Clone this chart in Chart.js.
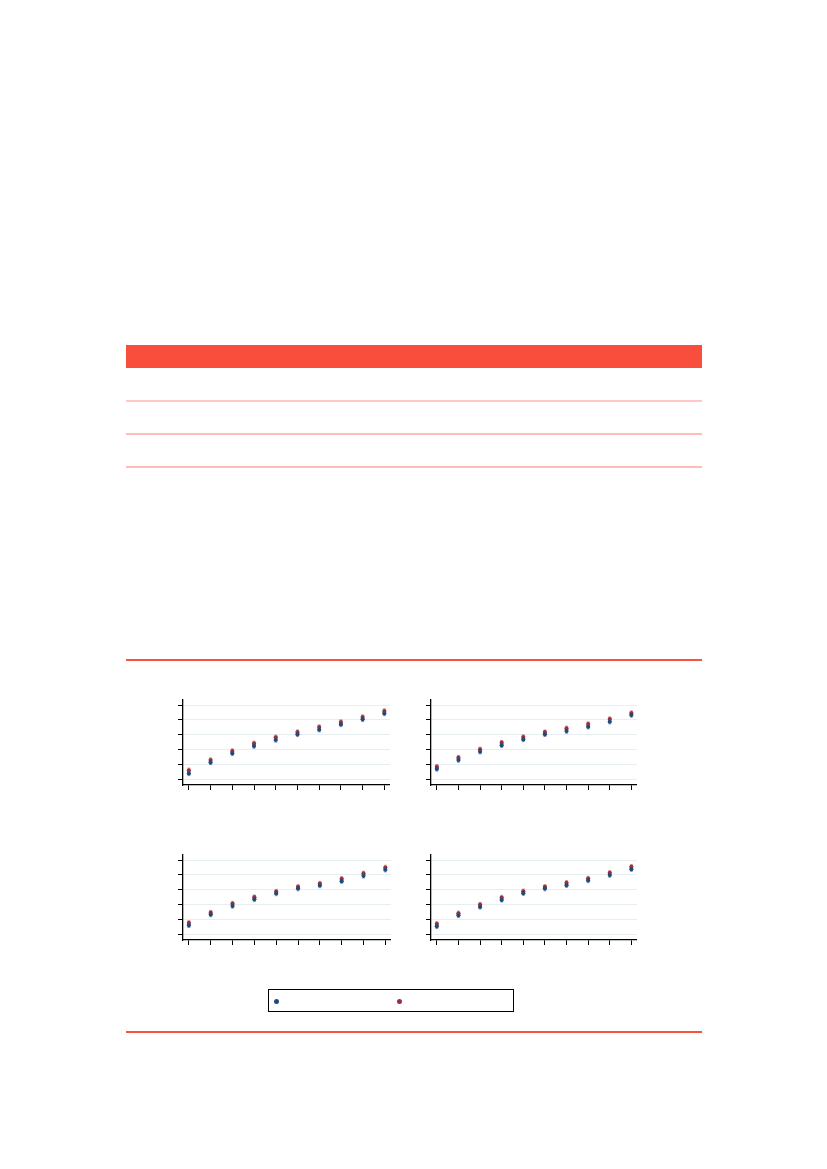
<!DOCTYPE html>
<html>
<head>
<meta charset="utf-8">
<script src="https://cdn.jsdelivr.net/npm/chart.js@4.4.1/dist/chart.umd.min.js"></script>
<style>
  html, body { margin: 0; padding: 0; background: #fff; }
  body { width: 827px; height: 1169px; position: relative; overflow: hidden; font-family: "Liberation Sans", Arial, sans-serif; }
  .box { position: absolute; }
  .rule { position: absolute; left: 126px; width: 576px; height: 2px; background: #f95240; }
  .band { position: absolute; left: 126px; width: 576px; }
</style>
</head>
<body>

<!-- table shell: header band and row rules (the table has no visible text) -->
<div class="band" style="top:345px; height:23px; background:#f94e3c;"></div>
<div class="band" style="top:400px; height:2px; background:#ffc8c4;"></div>
<div class="band" style="top:433px; height:2px; background:#ffbdb8;"></div>
<div class="band" style="top:466px; height:2px; background:#ffbdb8;"></div>

<div class="rule" style="top:659px"></div>

<div class="box" style="left:178px; top:699px; width:212px; height:91px;"><canvas id="c1"></canvas></div>
<div class="box" style="left:426px; top:699px; width:211px; height:91px;"><canvas id="c2"></canvas></div>
<div class="box" style="left:178px; top:854px; width:213px; height:91px;"><canvas id="c3"></canvas></div>
<div class="box" style="left:426px; top:854px; width:211px; height:91px;"><canvas id="c4"></canvas></div>

<div class="box" style="left:268px; top:989px; width:244px; height:21px; border:1.5px solid #000;">
  <span class="box" style="left:5px; top:9px; width:5px; height:5px; border-radius:50%; background:#1f4a7c;"></span>
  <span class="box" style="left:128px; top:9px; width:5px; height:5px; border-radius:50%; background:#9c2f3b;"></span>
</div>

<div class="rule" style="top:1031px"></div>

<script>
// ---- Data ----
const xValues = [1, 2, 3, 4, 5, 6, 7, 8, 9, 10];
const xTicks = [1, 2, 3, 4, 5, 6, 7, 8, 9, 10];
const yTicks = [0, 1, 2, 3, 4, 5];

// panel 1 (top left)
const p1Blue = [0.40, 1.14, 1.75, 2.24, 2.65, 3.03, 3.34, 3.70, 4.04, 4.44];
const p1Red  = [0.61, 1.30, 1.91, 2.42, 2.83, 3.18, 3.52, 3.86, 4.19, 4.60];
// panel 2 (top right)
const p2Blue = [0.70, 1.30, 1.86, 2.29, 2.69, 3.03, 3.25, 3.54, 3.88, 4.33];
const p2Red  = [0.85, 1.46, 2.02, 2.47, 2.85, 3.18, 3.43, 3.72, 4.06, 4.46];
// panel 3 (bottom left)
const p3Blue = [0.61, 1.33, 1.91, 2.36, 2.75, 3.08, 3.29, 3.58, 3.94, 4.35];
const p3Red  = [0.77, 1.46, 2.07, 2.50, 2.88, 3.20, 3.42, 3.74, 4.10, 4.50];
// panel 4 (bottom right)
const p4Blue = [0.54, 1.28, 1.85, 2.32, 2.77, 3.08, 3.31, 3.63, 3.99, 4.39];
const p4Red  = [0.70, 1.42, 2.00, 2.48, 2.90, 3.20, 3.47, 3.76, 4.14, 4.55];

// error half-widths (small, same for each point)
const errBlue = [0.15, 0.15, 0.15, 0.15, 0.15, 0.15, 0.15, 0.15, 0.15, 0.15];
const errRed  = [0.15, 0.15, 0.15, 0.15, 0.15, 0.15, 0.15, 0.15, 0.15, 0.15];

const BLUE = '#1f4a7c';
const RED = '#9c2f3b';

// ---- Error bar plugin: draws through the chart's own scales ----
const errorBars = {
    id: 'errorBars',
    beforeDatasetsDraw(chart) {
        const ctx = chart.ctx;
        const xs = chart.scales.x;
        const ys = chart.scales.y;
        chart.data.datasets.forEach(function (ds) {
            ctx.save();
            ctx.strokeStyle = ds.errColor;
            ctx.lineWidth = 1;
            ds.data.forEach(function (p, i) {
                const e = ds.errors[i];
                const px = xs.getPixelForValue(p.x);
                const top = ys.getPixelForValue(p.y + e);
                const bot = ys.getPixelForValue(p.y - e);
                ctx.beginPath();
                ctx.moveTo(px, top);
                ctx.lineTo(px, bot);
                ctx.moveTo(px - 1.5, top);
                ctx.lineTo(px + 1.5, top);
                ctx.moveTo(px - 1.5, bot);
                ctx.lineTo(px + 1.5, bot);
                ctx.stroke();
            });
            ctx.restore();
        });
    }
};

function toPoints(ys) {
    return xValues.map(function (x, i) {
        return { x: x, y: ys[i] };
    });
}

function createPanel(id, blue, red) {
    const canvas = document.getElementById(id);
    const ctx = canvas.getContext('2d');
    return new Chart(ctx, {
        type: 'scatter',
        data: {
            datasets: [{
                data: toPoints(blue),
                errors: errBlue,
                errColor: 'rgba(31, 74, 124, 0.45)',
                backgroundColor: BLUE,
                borderColor: BLUE,
                pointRadius: 2.1,
                borderWidth: 0
            }, {
                data: toPoints(red),
                errors: errRed,
                errColor: 'rgba(156, 47, 59, 0.45)',
                backgroundColor: RED,
                borderColor: RED,
                pointRadius: 2.1,
                borderWidth: 0
            }]
        },
        options: {
            responsive: true,
            maintainAspectRatio: false,
            animation: false,
            layout: { padding: 0, autoPadding: false },
            scales: {
                x: {
                    type: 'linear',
                    min: 0.73,
                    max: 10.26,
                    afterBuildTicks: function (axis) {
                        axis.ticks = xTicks.map(function (v) { return { value: v }; });
                    },
                    ticks: { display: false },
                    grid: {
                        drawOnChartArea: false,
                        drawTicks: true,
                        tickLength: 5,
                        tickColor: '#000'
                    },
                    border: { color: '#000', width: 1.3 }
                },
                y: {
                    type: 'linear',
                    min: -0.38,
                    max: 5.41,
                    afterBuildTicks: function (axis) {
                        axis.ticks = yTicks.map(function (v) { return { value: v }; });
                    },
                    ticks: { display: false },
                    grid: {
                        color: '#e6eef0',
                        lineWidth: 1,
                        drawTicks: true,
                        tickLength: 5,
                        tickColor: '#000'
                    },
                    border: { color: '#000', width: 1.3 }
                }
            },
            plugins: {
                legend: { display: false },
                tooltip: { enabled: false }
            }
        },
        plugins: [errorBars]
    });
}

createPanel('c1', p1Blue, p1Red);
createPanel('c2', p2Blue, p2Red);
createPanel('c3', p3Blue, p3Red);
createPanel('c4', p4Blue, p4Red);
</script>
</body>
</html>
